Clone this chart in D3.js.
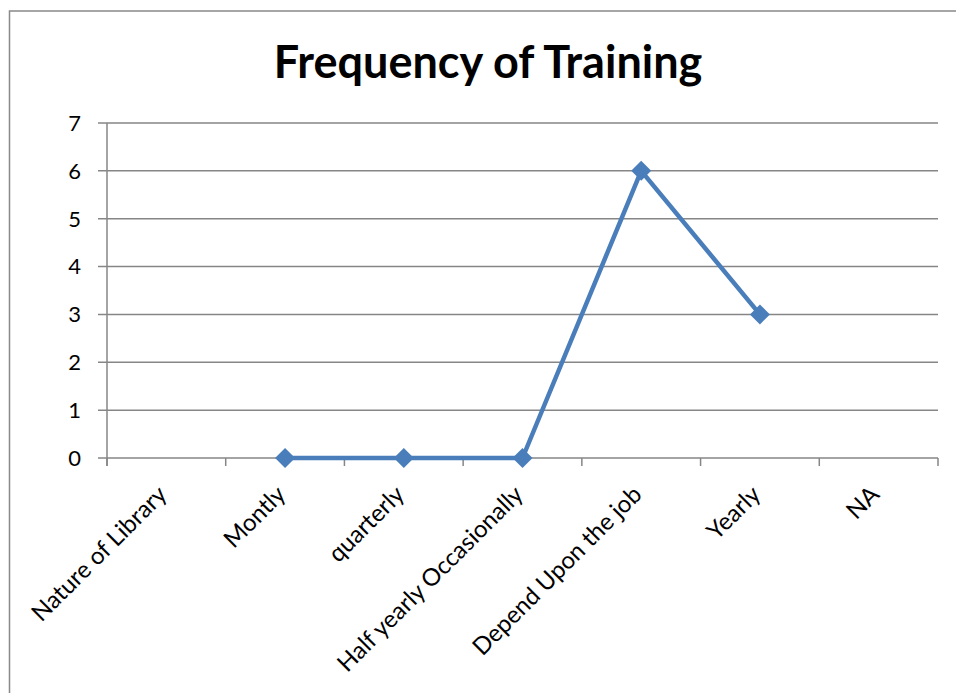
<!DOCTYPE html>
<html><head><meta charset="utf-8">
<script src="https://cdn.jsdelivr.net/npm/d3@7"></script>
<style>body{margin:0;background:#fff;} svg{display:block;}</style>
</head><body>
<svg id="chart" width="956" height="693"></svg>
<script>
const categories = ["Nature of Library","Montly","quarterly","Half yearly Occasionally","Depend Upon the job","Yearly","NA"];
const values = [null, 0, 0, 0, 6, 3, null];
const yTicks = [0,1,2,3,4,5,6,7];
const title = "Frequency of Training";

const svg = d3.select("#chart");
const font = "Lato, 'Open Sans', sans-serif";
const pLeft = 107, pRight = 938, pTop = 123, pBottom = 458;

svg.append("rect").attr("x",9.5).attr("y",11).attr("width",960).attr("height",700)
  .attr("fill","none").attr("stroke","#898989").attr("stroke-width",1.5);

svg.append("text").attr("x",488).attr("y",78).attr("text-anchor","middle")
  .attr("font-family",font).attr("font-weight","bold").attr("font-size",45)
  .attr("fill","#000").text(title);

const x = d3.scaleBand().domain(categories).range([pLeft,pRight]).padding(0);
const y = d3.scaleLinear().domain([0,7]).range([pBottom,pTop]);

svg.append("g").selectAll("line").data(yTicks).join("line")
  .attr("x1",pLeft-9).attr("x2",pRight).attr("y1",d=>y(d)).attr("y2",d=>y(d))
  .attr("stroke","#868686").attr("stroke-width",1.5);

svg.append("line").attr("x1",pLeft).attr("x2",pLeft).attr("y1",pTop).attr("y2",pBottom+8)
  .attr("stroke","#868686").attr("stroke-width",1.5);

svg.append("g").selectAll("text").data(yTicks).join("text")
  .attr("x",81).attr("y",d=>y(d)).attr("dy","0.36em").attr("text-anchor","end")
  .attr("font-family",font).attr("font-size",22).attr("fill","#000").text(d=>d);

const edges = categories.map(c=>x(c)).concat([pRight]);
svg.append("g").selectAll("line").data(edges).join("line")
  .attr("x1",d=>d).attr("x2",d=>d).attr("y1",pBottom).attr("y2",pBottom+8)
  .attr("stroke","#868686").attr("stroke-width",1.5);

svg.append("g").selectAll("text").data(categories).join("text")
  .attr("transform",c=>`translate(${x(c)+x.bandwidth()/2+2},${pBottom+38}) rotate(-45)`)
  .attr("text-anchor","end")
  .attr("font-family",font).attr("font-size",24).attr("fill","#000").text(c=>c);

const pts = categories.map((c,i)=>({c, v: values[i]})).filter(d=>d.v!==null);
const line = d3.line().x(d=>x(d.c)+x.bandwidth()/2).y(d=>y(d.v));
svg.append("path").datum(pts).attr("d",line).attr("fill","none")
  .attr("stroke","#4A7EBB").attr("stroke-width",4.5).attr("stroke-linejoin","round");

const sym = d3.symbol().type(d3.symbolSquare).size(200);
svg.append("g").selectAll("path").data(pts).join("path")
  .attr("d",sym).attr("transform",d=>`translate(${x(d.c)+x.bandwidth()/2},${y(d.v)}) rotate(45)`)
  .attr("fill","#4A7EBB");
</script>
</body></html>
